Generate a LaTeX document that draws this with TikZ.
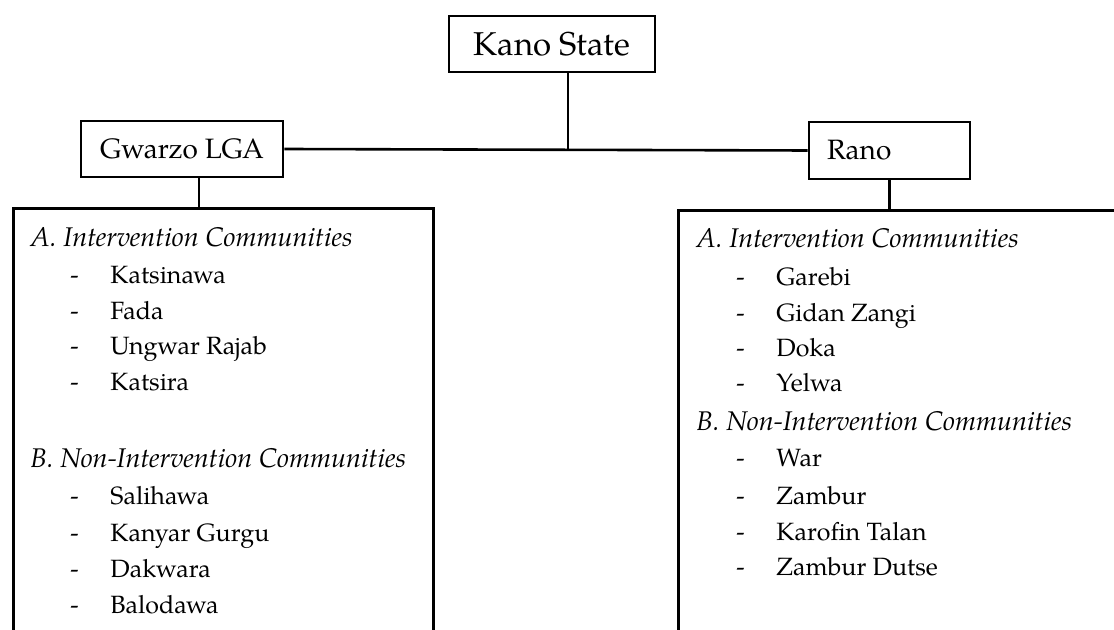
\documentclass[tikz,border=0pt]{standalone}
\usepackage{fontspec}
\setmainfont{TeX Gyre Pagella}
\begin{document}
\begin{tikzpicture}[x=0.5pt,y=-0.5pt,
  box/.style={draw,line width=1.3pt,inner sep=0pt,font=\fontsize{14}{17}\selectfont},
  conn/.style={line width=1.3pt},
  txt/.style={anchor=base west,inner sep=0pt,font=\fontsize{12.5}{15}\selectfont},
  head/.style={anchor=base west,inner sep=0pt,font=\fontsize{13.5}{16}\selectfont\itshape}]
\useasboundingbox (0,0) rectangle (1114,630);
\clip (0,0) rectangle (1114,630);
% top-level boxes
\node[box,minimum width=103pt,minimum height=28pt,font=\fontsize{16.5}{19}\selectfont] (kano) at (552,44) {Kano State};
\node[box,minimum width=101pt,minimum height=28pt] (gwarzo) at (182,149) {Gwarzo LGA};
\node[box,minimum height=28.5pt,text width=62.5pt,align=left,inner xsep=9pt] (rano) at (889.5,150.5) {Rano};
% community boxes (open at the page edges)
\node[box,minimum width=210pt,minimum height=260pt,anchor=north west] (lb) at (12,207) {};
\node[box,minimum width=280pt,minimum height=260pt,anchor=north west] (rb) at (677,209) {};
% connectors
\coordinate (j) at (568,150);
\coordinate (g) at (199,0);
\draw[conn] (gwarzo.east) -- (rano.west);
\draw[conn] (j) -- (j |- kano.south);
\draw[conn] (g |- gwarzo.south) -- (g |- lb.north);
\draw[conn] (rano.south) -- (rano.south |- rb.north);
% left list
\node[head] (la) at (30,247) {A. Intervention Communities};
\foreach \n/\y/\t in {1/284/Katsinawa,2/320/Fada,3/355/Ungwar Rajab,4/391/Katsira,5/505/Salihawa,6/541/Kanyar Gurgu,7/577/Dakwara,8/613/Balodawa}{
  \node[txt] (ld\n) at (70,\y) {-};
  \node[txt] (ln\n) at (110,\y) {\t};
}
\node[head] (lbh) at (30,468) {B. Non-Intervention Communities};
% right list
\node[head] (ra) at (696,248) {A. Intervention Communities};
\foreach \n/\y/\t in {1/286/Garebi,2/322/Gidan Zangi,3/357/Doka,4/392/Yelwa,5/467/War,6/504/Zambur,7/540/Karofin Talan,8/575/Zambur Dutse}{
  \node[txt] (rd\n) at (736,\y) {-};
  \node[txt] (rn\n) at (776,\y) {\t};
}
\node[head] (rbh) at (696,431) {B. Non-Intervention Communities};
\end{tikzpicture}
\end{document}
